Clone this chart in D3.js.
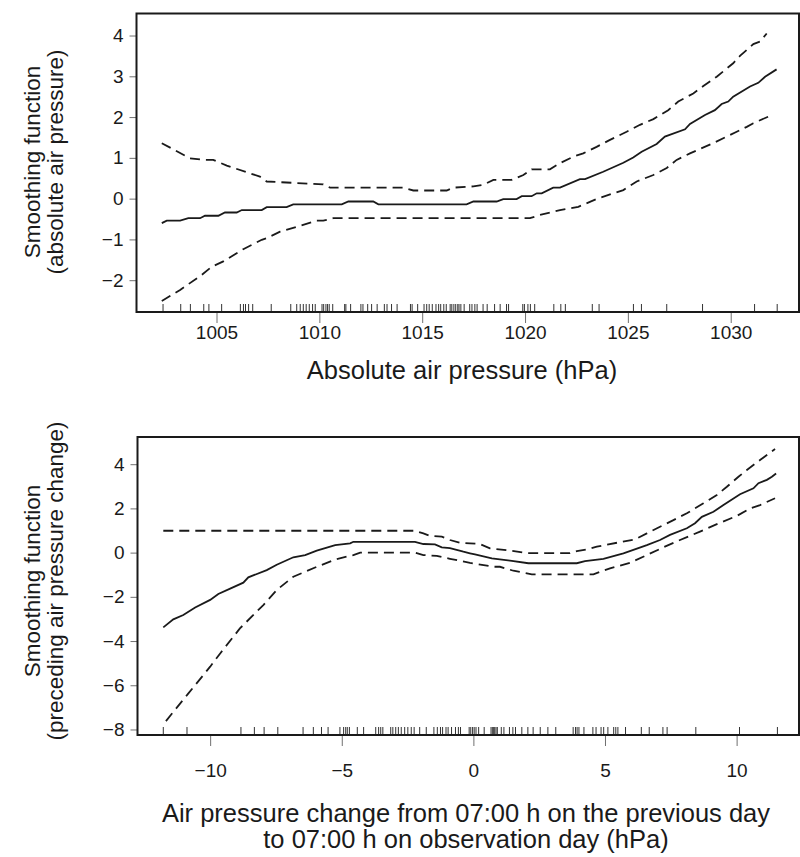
<!DOCTYPE html>
<html>
<head>
<meta charset="utf-8">
<script src="https://cdn.jsdelivr.net/npm/d3@7"></script>
<style>
  body { margin: 0; background: #fff; }
  svg { display: block; font-family: "Liberation Sans", Arial, Helvetica, sans-serif; }
</style>
</head>
<body>
<div id="chart"></div>
<script>
// --- top panel: absolute air pressure ---
const absTicksX = [1005, 1010, 1015, 1020, 1025, 1030];
const absTicksY = [-2, -1, 0, 1, 2, 3, 4];

const absFitX = [1002.34, 1002.58, 1003.23, 1003.63, 1004.20, 1004.44, 1005.09, 1005.41, 1005.98, 1006.23, 1007.20, 1007.44, 1008.41, 1008.73, 1011.09, 1011.41, 1012.62, 1012.87, 1017.16, 1017.49, 1018.62, 1018.94, 1019.59, 1019.84, 1020.32, 1020.57, 1020.81, 1021.37, 1021.70, 1022.67, 1022.92, 1023.80, 1024.78, 1025.26, 1025.67, 1026.40, 1026.80, 1027.78, 1028.02, 1028.75, 1029.23, 1029.56, 1029.88, 1030.12, 1030.94, 1031.34, 1031.67, 1032.23];
const absFitY = [-0.60, -0.54, -0.54, -0.48, -0.48, -0.42, -0.42, -0.34, -0.34, -0.28, -0.28, -0.21, -0.21, -0.14, -0.14, -0.07, -0.07, -0.14, -0.14, -0.07, -0.07, -0.01, -0.01, 0.06, 0.06, 0.13, 0.13, 0.27, 0.27, 0.48, 0.48, 0.66, 0.88, 1.01, 1.15, 1.34, 1.52, 1.70, 1.83, 2.05, 2.17, 2.32, 2.38, 2.50, 2.75, 2.84, 2.99, 3.17];

const absUpperX = [1002.34, 1003.71, 1004.36, 1004.84, 1005.50, 1007.11, 1007.44, 1010.19, 1010.52, 1014.08, 1014.57, 1016.19, 1016.51, 1017.49, 1017.97, 1018.46, 1019.35, 1019.92, 1020.32, 1021.21, 1021.70, 1022.35, 1022.83, 1023.48, 1024.13, 1024.94, 1025.59, 1026.24, 1026.96, 1027.45, 1028.18, 1028.67, 1029.32, 1030.12, 1030.45, 1031.10, 1031.42, 1031.75];
const absUpperY = [1.36, 0.99, 0.95, 0.95, 0.81, 0.54, 0.42, 0.35, 0.27, 0.27, 0.20, 0.20, 0.27, 0.30, 0.34, 0.46, 0.46, 0.58, 0.72, 0.72, 0.87, 1.03, 1.11, 1.27, 1.44, 1.64, 1.81, 1.95, 2.17, 2.38, 2.58, 2.76, 2.99, 3.32, 3.50, 3.79, 3.85, 4.05];

const absLowerX = [1002.34, 1003.23, 1004.28, 1004.77, 1005.33, 1006.30, 1007.20, 1007.44, 1008.09, 1008.90, 1009.87, 1010.19, 1010.68, 1020.24, 1020.73, 1021.70, 1022.59, 1023.48, 1024.29, 1024.78, 1025.43, 1026.24, 1026.89, 1027.37, 1028.02, 1029.15, 1029.80, 1030.29, 1030.78, 1031.10, 1031.91];
const absLowerY = [-2.51, -2.24, -1.87, -1.67, -1.54, -1.24, -1.01, -0.97, -0.81, -0.69, -0.54, -0.54, -0.48, -0.48, -0.40, -0.28, -0.20, -0.01, 0.13, 0.21, 0.42, 0.58, 0.75, 0.95, 1.11, 1.36, 1.52, 1.64, 1.76, 1.85, 2.03];

const absRug = [1002.40, 1003.26, 1003.73, 1004.38, 1004.63, 1005.25, 1006.16, 1006.31, 1006.41, 1006.56, 1006.76, 1007.66, 1008.61, 1008.90, 1009.07, 1009.22, 1009.36, 1009.51, 1009.67, 1009.80, 1010.13, 1010.21, 1010.32, 1010.40, 1010.48, 1010.65, 1011.23, 1011.29, 1011.52, 1012.02, 1012.12, 1012.35, 1012.54, 1012.81, 1013.16, 1013.29, 1013.51, 1013.78, 1014.43, 1014.51, 1014.78, 1015.09, 1015.22, 1015.34, 1015.49, 1015.67, 1015.80, 1015.90, 1016.05, 1016.17, 1016.36, 1016.44, 1016.54, 1016.63, 1016.73, 1016.79, 1016.88, 1017.04, 1017.31, 1017.42, 1017.56, 1017.67, 1017.96, 1018.16, 1018.52, 1018.79, 1019.10, 1019.20, 1019.89, 1019.97, 1020.14, 1020.26, 1020.47, 1021.40, 1021.74, 1021.96, 1023.27, 1023.60, 1025.27, 1025.66, 1026.89, 1028.63, 1031.16, 1032.26];

// --- bottom panel: air pressure change ---
const chgTicksX = [-10, -5, 0, 5, 10];
const chgTicksY = [-8, -6, -4, -2, 0, 2, 4];

const chgFitX = [-11.78, -11.40, -11.02, -10.57, -10.00, -9.69, -9.24, -8.74, -8.55, -7.85, -7.47, -6.84, -6.39, -5.95, -5.25, -4.68, -4.56, -2.22, -1.90, -1.46, -1.20, -0.89, -0.38, -0.13, 0.06, 0.70, 1.46, 2.09, 3.93, 4.24, 4.94, 5.70, 6.59, 7.09, 7.47, 8.11, 8.42, 8.68, 9.12, 9.50, 10.13, 10.64, 10.83, 11.15, 11.34, 11.50];
const chgFitY = [-3.38, -3.02, -2.82, -2.48, -2.14, -1.87, -1.63, -1.36, -1.12, -0.79, -0.55, -0.21, -0.11, 0.09, 0.34, 0.42, 0.49, 0.49, 0.39, 0.37, 0.24, 0.20, 0.04, -0.03, -0.08, -0.26, -0.37, -0.48, -0.48, -0.38, -0.28, -0.03, 0.34, 0.57, 0.80, 1.10, 1.33, 1.62, 1.85, 2.15, 2.64, 2.91, 3.14, 3.29, 3.43, 3.58];

const chgUpperX = [-11.78, -2.22, -1.90, -1.65, -1.20, -0.89, -0.51, -0.13, 0.25, 0.63, 1.39, 2.03, 3.67, 3.93, 4.37, 4.69, 5.07, 6.14, 6.59, 7.09, 7.60, 8.11, 8.74, 9.25, 9.63, 10.07, 10.39, 10.89, 11.46];
const chgUpperY = [0.99, 0.99, 0.87, 0.76, 0.72, 0.57, 0.45, 0.42, 0.39, 0.19, 0.09, -0.02, -0.02, 0.07, 0.16, 0.27, 0.36, 0.60, 0.87, 1.17, 1.47, 1.78, 2.23, 2.61, 2.98, 3.43, 3.74, 4.19, 4.69];

const chgLowerX = [-11.68, -10.85, -10.00, -9.62, -8.87, -7.98, -7.47, -6.84, -5.95, -5.19, -4.56, -4.30, -2.22, -1.90, -1.39, -0.89, -0.13, 0.76, 1.01, 1.52, 2.22, 4.56, 5.19, 5.95, 6.59, 7.22, 7.85, 8.61, 9.25, 10.01, 10.51, 10.89, 11.46];
const chgLowerY = [-7.62, -6.40, -5.16, -4.56, -3.43, -2.37, -1.69, -1.09, -0.64, -0.29, -0.11, 0.00, 0.00, -0.11, -0.15, -0.28, -0.46, -0.64, -0.64, -0.82, -0.98, -0.98, -0.71, -0.46, -0.11, 0.24, 0.57, 0.95, 1.29, 1.66, 2.00, 2.15, 2.46];

const chgRug = [-11.78, -10.88, -8.83, -8.32, -7.95, -7.43, -6.47, -6.08, -5.77, -5.52, -5.07, -4.93, -4.85, -4.79, -4.71, -4.41, -4.17, -3.71, -3.60, -3.52, -3.44, -3.14, -3.06, -2.95, -2.85, -2.74, -2.61, -2.49, -2.36, -2.25, -2.04, -1.79, -1.50, -1.37, -1.25, -1.17, -1.04, -0.96, -0.83, -0.68, -0.57, -0.49, -0.16, -0.10, -0.03, 0.03, 0.10, 0.20, 0.41, 0.67, 0.72, 0.77, 0.81, 0.86, 0.91, 1.06, 1.16, 1.37, 1.50, 1.60, 1.84, 2.07, 2.27, 2.54, 2.83, 3.13, 3.79, 3.88, 3.94, 4.01, 4.20, 4.54, 4.66, 4.85, 4.95, 5.11, 5.33, 5.41, 5.49, 5.78, 6.38, 6.68, 7.20, 7.36, 8.45, 10.11, 11.55];

const W = 800, H = 857;
const ink = "#1a1a1a";
const tickGrey = "#707070";
const fmt = d3.format("d");

const svg = d3.select("#chart")
  .append("svg")
  .attr("width", W)
  .attr("height", H);

function panel(cfg) {
  const x = d3.scaleLinear().domain(cfg.xDomain).range([cfg.left, cfg.right]);
  const y = d3.scaleLinear().domain(cfg.yDomain).range([cfg.bottom, cfg.top]);
  const g = svg.append("g");

  // y axis ticks + labels
  const ya = g.append("g")
    .attr("transform", `translate(${cfg.left},0)`)
    .call(d3.axisLeft(y).tickValues(cfg.yTicks).tickFormat(fmt).tickSize(7).tickPadding(6).tickSizeOuter(0));
  ya.select(".domain").remove();
  ya.selectAll(".tick line").attr("stroke", tickGrey);
  ya.selectAll(".tick text").attr("fill", ink).style("font-size", "19px");

  // x axis ticks + labels
  const xa = g.append("g")
    .attr("transform", `translate(0,${cfg.bottom})`)
    .call(d3.axisBottom(x).tickValues(cfg.xTicks).tickFormat(fmt).tickSize(11).tickPadding(cfg.xPad).tickSizeOuter(0));
  xa.select(".domain").remove();
  xa.selectAll(".tick line").attr("stroke", tickGrey);
  xa.selectAll(".tick text").attr("fill", ink).style("font-size", "19px");

  // rug
  g.append("g")
    .selectAll("line")
    .data(cfg.rug)
    .join("line")
    .attr("x1", d => x(d))
    .attr("x2", d => x(d))
    .attr("y1", cfg.bottom)
    .attr("y2", cfg.bottom - 8)
    .attr("stroke", "#333")
    .attr("stroke-width", 1);

  // curves
  const line = d3.line().x(d => x(d[0])).y(d => y(d[1]));
  const curves = [
    { xs: cfg.upperX, ys: cfg.upperY, dash: "10,6" },
    { xs: cfg.lowerX, ys: cfg.lowerY, dash: "10,6" },
    { xs: cfg.fitX, ys: cfg.fitY, dash: null }
  ];
  curves.forEach(c => {
    g.append("path")
      .datum(d3.zip(c.xs, c.ys))
      .attr("d", line)
      .attr("fill", "none")
      .attr("stroke", ink)
      .attr("stroke-width", 1.8)
      .attr("stroke-dasharray", c.dash);
  });

  // frame
  g.append("rect")
    .attr("x", cfg.left)
    .attr("y", cfg.top)
    .attr("width", cfg.right - cfg.left)
    .attr("height", cfg.bottom - cfg.top)
    .attr("fill", "none")
    .attr("stroke", ink)
    .attr("stroke-width", 2);

  // x title (one text per line)
  cfg.xTitle.forEach((t, i) => {
    g.append("text")
      .attr("x", cfg.xTitleX)
      .attr("y", cfg.xTitleY + i * 26)
      .attr("text-anchor", "middle")
      .attr("fill", ink)
      .style("font-size", "25.5px")
      .text(t);
  });

  // y title
  cfg.yTitle.forEach((t, i) => {
    g.append("text")
      .attr("text-anchor", "middle")
      .attr("fill", ink)
      .attr("transform", `translate(${40 + i * 23},${cfg.yTitleC}) rotate(-90)`)
      .style("font-size", "22.5px")
      .text(t);
  });
}

panel({
  left: 136.5, right: 799, top: 13.5, bottom: 312,
  xDomain: [1001.11, 1033.32], yDomain: [-2.78, 4.54],
  xTicks: absTicksX, yTicks: absTicksY, xPad: 3,
  fitX: absFitX, fitY: absFitY,
  upperX: absUpperX, upperY: absUpperY,
  lowerX: absLowerX, lowerY: absLowerY,
  rug: absRug,
  xTitle: ["Absolute air pressure (hPa)"], xTitleX: 462, xTitleY: 379,
  yTitle: ["Smoothing function", "(absolute air pressure)"], yTitleC: 162
});

panel({
  left: 137.5, right: 799, top: 437, bottom: 735,
  xDomain: [-12.76, 12.37], yDomain: [-8.25, 5.23],
  xTicks: chgTicksX, yTicks: chgTicksY, xPad: 18,
  fitX: chgFitX, fitY: chgFitY,
  upperX: chgUpperX, upperY: chgUpperY,
  lowerX: chgLowerX, lowerY: chgLowerY,
  rug: chgRug,
  xTitle: ["Air pressure change from 07:00 h on the previous day", "to 07:00 h on observation day (hPa)"], xTitleX: 466, xTitleY: 822,
  yTitle: ["Smoothing function", "(preceding air pressure change)"], yTitleC: 581
});
</script>
</body>
</html>
